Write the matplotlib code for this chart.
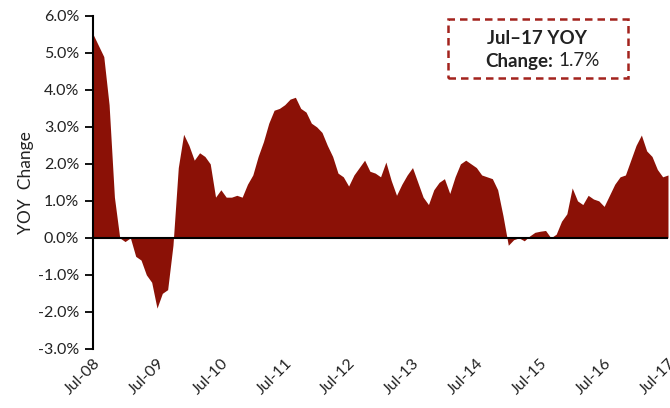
import numpy as np
import matplotlib.pyplot as plt
from matplotlib.patches import Rectangle

plt.rcParams['font.family'] = ['Lato', 'DejaVu Sans']

FILL = '#8b1106'
BOX = '#a3231d'
TXT = '#222222'

# monthly YOY change (%), Jul-08 .. Jul-17
yoy = [5.5, 5.2, 4.9, 3.6, 1.1, 0.0, -0.1, 0.0, -0.5, -0.6, -1.0, -1.2,
       -1.9, -1.5, -1.4, -0.2, 1.9, 2.8, 2.5, 2.1, 2.3, 2.2, 2.0, 1.1,
       1.3, 1.1, 1.1, 1.15, 1.1, 1.45, 1.7, 2.2, 2.6, 3.1, 3.45, 3.5,
       3.6, 3.75, 3.8, 3.5, 3.4, 3.1, 3.0, 2.85, 2.5, 2.2, 1.75, 1.65,
       1.4, 1.7, 1.9, 2.1, 1.8, 1.75, 1.65, 2.05, 1.55, 1.15, 1.45, 1.7,
       1.9, 1.5, 1.1, 0.9, 1.3, 1.5, 1.6, 1.2, 1.65, 2.0, 2.1, 2.0,
       1.9, 1.7, 1.65, 1.6, 1.3, 0.6, -0.2, -0.05, 0.0, -0.08, 0.05, 0.15,
       0.18, 0.2, 0.0, 0.1, 0.45, 0.65, 1.35, 1.0, 0.9, 1.15, 1.05, 1.0,
       0.85, 1.15, 1.45, 1.65, 1.7, 2.1, 2.5, 2.78, 2.35, 2.2, 1.85, 1.65,
       1.7]
tick_labels = ['Jul-08', 'Jul-09', 'Jul-10', 'Jul-11', 'Jul-12',
               'Jul-13', 'Jul-14', 'Jul-15', 'Jul-16', 'Jul-17']
y_ticks = [-3, -2, -1, 0, 1, 2, 3, 4, 5, 6]

fig = plt.figure(figsize=(6.7, 4.08), dpi=100)
ax = fig.add_axes([0.139, 0.145, 0.858, 0.816])

x = np.arange(len(yoy))
ax.fill_between(x, yoy, 0, color=FILL, lw=0)
ax.axhline(0, color='black', lw=1.5, zorder=5)

ax.set_xlim(0, len(yoy) - 1)
ax.set_ylim(-3, 6)
ax.set_yticks(y_ticks)
ax.set_yticklabels([f'{v:.1f}%' for v in y_ticks], fontsize=11.5, color=TXT)
ax.set_xticks(x[::12])
ax.set_xticklabels(tick_labels, rotation=45, ha='right', rotation_mode='anchor',
                   fontsize=11.5, color=TXT)
ax.tick_params(axis='x', length=0, pad=5)
ax.tick_params(axis='y', length=6, width=1.3, color='black', direction='out', pad=4)

for s in ['top', 'right', 'bottom']:
    ax.spines[s].set_visible(False)
ax.spines['left'].set_linewidth(1.5)
ax.spines['left'].set_color('black')

ax.set_ylabel('YOY  Change', fontsize=12.5, color=TXT, labelpad=3)

# annotation box (figure pixels -> fractions)
W, H = 670, 408
fig.patches.append(Rectangle((448 / W, 1 - 78 / H), 180 / W, 59 / H,
                             transform=fig.transFigure, fill=False,
                             edgecolor=BOX, lw=1.8, ls=(0, (3, 2))))
fig.text(537 / W, 1 - 38 / H, 'Jul\u201317 YOY', ha='center', va='center',
         fontsize=13.5, fontweight='bold', color=TXT)
fig.text(553 / W, 1 - 61 / H, 'Change:', ha='right', va='center',
         fontsize=13.5, fontweight='bold', color=TXT)
fig.text(558 / W, 1 - 61 / H, '1.7%', ha='left', va='center',
         fontsize=13.5, color=TXT)

fig.savefig('out.png', dpi=100)
